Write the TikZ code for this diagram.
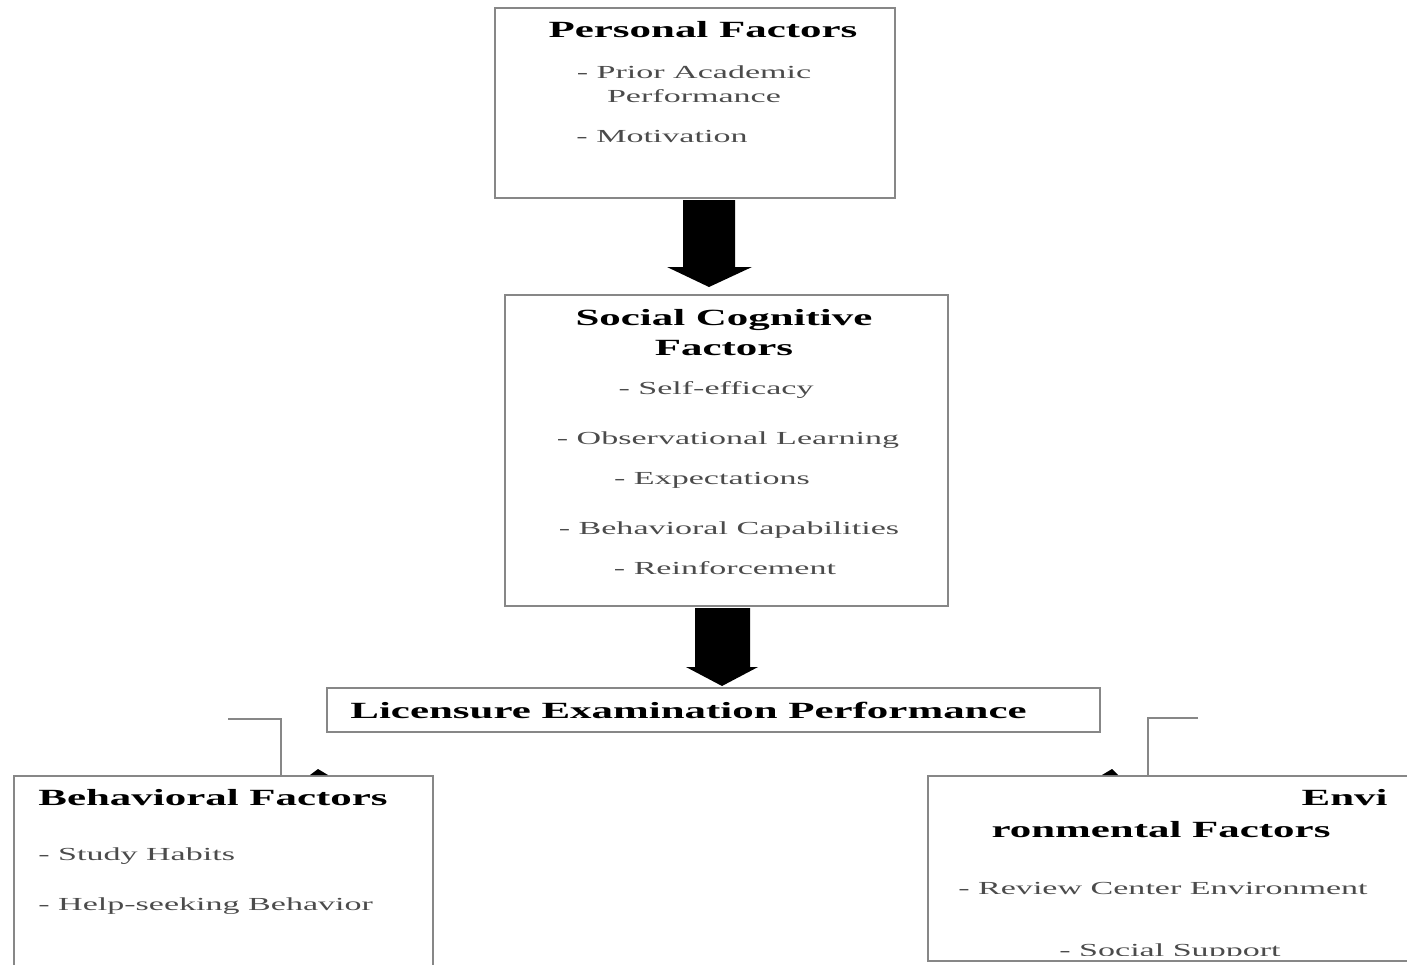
\documentclass[tikz,border=0pt]{standalone}
\usepackage{fontspec}
\setmainfont{Liberation Serif}[FakeStretch=1.85]
\usepackage{tikz}
\usetikzlibrary{arrows,calc}

\definecolor{boxgray}{RGB}{135,135,135}
\definecolor{itemgray}{RGB}{75,75,75}

\tikzset{
  factorbox/.style={draw=boxgray, line width=1.2pt, inner sep=0pt},
  titletext/.style={font=\fontsize{11.6}{15}\selectfont\bfseries, inner sep=0pt, align=center},
  itemtext/.style={font=\fontsize{9.2}{12}\selectfont, text=itemgray, inner sep=0pt, align=center},
  elbow/.style={draw=boxgray, line width=1.1pt},
}

\begin{document}
\begin{tikzpicture}[x=0.5pt,y=-0.5pt]
\useasboundingbox (0,0) rectangle (1407,964);
\clip (0,0) rectangle (1407,964);
% boxes
\node[factorbox, minimum width=200pt, minimum height=95pt] (pers) at (695,103) {};
\node[factorbox, minimum width=221.5pt, minimum height=155.5pt] (soc) at (726.5,450.5) {};
\node[factorbox, minimum width=386.5pt, minimum height=22pt] (lic) at (713.5,710) {};
\node[factorbox, minimum width=209.5pt, minimum height=112pt] (beh) at (223.5,888) {};
\node[factorbox, minimum width=261pt, minimum height=92.5pt] (env) at (1189,868.5) {};

% personal factors
\node[titletext] (perstitle) at (703,30) {Personal Factors};
\node[itemtext] (persprior) at (694,84) {- Prior Academic\\Performance};
\node[itemtext] (persmot) at (662,136) {- Motivation};

% social cognitive factors
\node[titletext] (soctitle) at (724,333) {Social Cognitive\\Factors};
\node[itemtext] (socself) at (716,390) {- Self-efficacy};
\node[itemtext] (socobs) at (728,440) {- Observational Learning};
\node[itemtext] (socexp) at (712,480) {- Expectations};
\node[itemtext] (socbeh) at (729,530) {- Behavioral Capabilities};
\node[itemtext] (socrein) at (725,568) {- Reinforcement};

% licensure
\node[titletext, anchor=west] (lictitle) at (350,710) {Licensure Examination Performance};

% behavioral factors
\node[titletext, anchor=west] (behtitle) at (38,798) {Behavioral Factors};
\node[itemtext, anchor=west] (behstudy) at (38,856) {- Study Habits};
\node[itemtext, anchor=west] (behhelp) at (38,906) {- Help-seeking Behavior};

% environmental factors
\node[titletext, anchor=east] (envtitlea) at (1388,798) {Envi};
\node[titletext] (envtitleb) at (1161,830) {ronmental Factors};
\node[itemtext] (envreview) at (1163,888) {- Review Center Environment};
\begin{scope}
\clip (929,777) rectangle (1407,955);
\node[itemtext] (envsocial) at (1170,952) {- Social Support};
\end{scope}

% block arrows
\fill (683,200) -- (735,200) -- (735,267) -- (752,267) -- (709,287) -- (667,267) -- (683,267) -- cycle;
\fill (695,608) -- (750,608) -- (750,667) -- (758,667) -- (722,686) -- (686,667) -- (695,667) -- cycle;

% elbow connectors
\coordinate (lfree) at (228,719);
\coordinate (ljoin) at (281,776);
\coordinate (rfree) at (1198,718);
\coordinate (rjoin) at (1148,776);
\draw[elbow] (lfree) -| (ljoin);
\draw[elbow] (rfree) -| (rjoin);
\fill (310,775) -- (318,769) -- (328,775) -- cycle;
\fill (1102,775) -- (1112,769) -- (1118,775) -- cycle;
\end{tikzpicture}
\end{document}
